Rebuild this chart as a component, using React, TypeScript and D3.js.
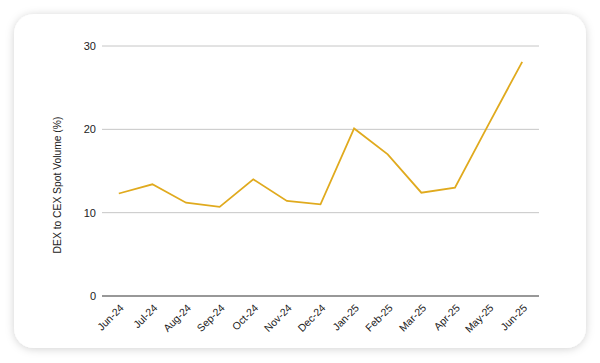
import React from "react";
import * as d3 from "d3";

// -- DATA --
const months = [
  "Jun-24", "Jul-24", "Aug-24", "Sep-24", "Oct-24", "Nov-24", "Dec-24",
  "Jan-25", "Feb-25", "Mar-25", "Apr-25", "May-25", "Jun-25",
];
const dexToCex = [12.3, 13.4, 11.2, 10.7, 14.0, 11.4, 11.0, 20.1, 17.0, 12.4, 13.0, 20.6, 28.1];
const yTicks = [0, 10, 20, 30];
const yTitle = "DEX to CEX Spot Volume (%)";

const App = () => {
  const svgRef = React.useRef<SVGSVGElement | null>(null);
  const width = 600;
  const height = 363;
  const plot = { left: 102, right: 539, top: 46, bottom: 296 };

  React.useEffect(() => {
    const svg = d3.select(svgRef.current);
    svg.selectAll("*").remove();

    // card with soft shadow
    const defs = svg.append("defs");
    const filter = defs
      .append("filter")
      .attr("id", "cardShadow")
      .attr("x", "-10%")
      .attr("y", "-10%")
      .attr("width", "120%")
      .attr("height", "120%");
    filter
      .append("feDropShadow")
      .attr("dx", 0)
      .attr("dy", 1)
      .attr("stdDeviation", 4)
      .attr("flood-color", "#000")
      .attr("flood-opacity", 0.18);

    svg
      .append("rect")
      .attr("x", 14)
      .attr("y", 14)
      .attr("width", 572)
      .attr("height", 334)
      .attr("rx", 20)
      .attr("fill", "#fff")
      .attr("filter", "url(#cardShadow)");

    // scales
    const x = d3
      .scalePoint<string>()
      .domain(months)
      .range([plot.left, plot.right])
      .padding(0.5);
    const y = d3.scaleLinear().domain([0, 30]).range([plot.bottom, plot.top]);

    const font = "Arial, 'Liberation Sans', sans-serif";

    // gridlines
    svg
      .append("g")
      .selectAll("line")
      .data(yTicks.filter((t) => t !== 0))
      .enter()
      .append("line")
      .attr("x1", plot.left)
      .attr("x2", plot.right)
      .attr("y1", (d) => y(d))
      .attr("y2", (d) => y(d))
      .attr("stroke", "#c6c6c6")
      .attr("stroke-width", 1);

    // y tick labels
    svg
      .append("g")
      .selectAll("text")
      .data(yTicks)
      .enter()
      .append("text")
      .attr("x", plot.left - 6)
      .attr("y", (d) => y(d))
      .attr("dy", "0.35em")
      .attr("text-anchor", "end")
      .attr("font-family", font)
      .attr("font-size", 11)
      .attr("fill", "#222")
      .text((d) => d);

    // baseline
    svg
      .append("line")
      .attr("x1", plot.left)
      .attr("x2", plot.right)
      .attr("y1", y(0))
      .attr("y2", y(0))
      .attr("stroke", "#333")
      .attr("stroke-width", 1.2);

    // x labels, rotated
    svg
      .append("g")
      .selectAll("text")
      .data(months)
      .enter()
      .append("text")
      .attr(
        "transform",
        (d) => `translate(${(x(d) as number) + 3},${plot.bottom + 10}) rotate(-45)`
      )
      .attr("text-anchor", "end")
      .attr("dy", "0.35em")
      .attr("font-family", font)
      .attr("font-size", 10.5)
      .attr("fill", "#222")
      .text((d) => d);

    // y title
    svg
      .append("text")
      .attr("transform", `translate(61,185) rotate(-90)`)
      .attr("text-anchor", "middle")
      .attr("font-family", font)
      .attr("font-size", 10.3)
      .attr("fill", "#222")
      .text(yTitle);

    // line
    const line = d3
      .line<number>()
      .x((_, i) => x(months[i]) as number)
      .y((d) => y(d));
    svg
      .append("path")
      .datum(dexToCex)
      .attr("d", line)
      .attr("fill", "none")
      .attr("stroke", "#e0aa1e")
      .attr("stroke-width", 1.8)
      .attr("stroke-linejoin", "miter");
  }, []);

  return (
    <svg
      ref={svgRef}
      width={width}
      height={height}
      style={{ position: "fixed", top: 0, left: 0, background: "#fff" }}
    />
  );
};

export default App;
